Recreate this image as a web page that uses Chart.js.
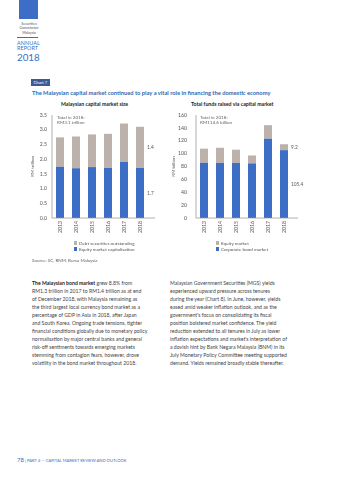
<!DOCTYPE html>
<html>
<head>
<meta charset="utf-8">
<script src="https://cdn.jsdelivr.net/npm/chart.js@4/dist/chart.umd.min.js"></script>
<style>
  html,body{margin:0;padding:0;background:#fff;}
  body{width:339px;height:480px;position:relative;overflow:hidden;font-family:Lato,"Open Sans",sans-serif;}
  .abs{position:absolute;white-space:nowrap;}
  .logo{left:19px;top:0;width:19px;height:19px;background:#3b6ec4;}
  .sc{left:17px;width:24px;text-align:center;font-size:3.6px;color:#555;line-height:4.3px;top:22px;}
  .rule{left:17px;top:37px;width:21px;height:0;border-top:0.6px solid #3b6ec4;}
  .ar{left:17px;color:#3b6ec4;font-size:5.4px;line-height:5.6px;top:40.5px;letter-spacing:0.1px;}
  .yr{left:17px;top:51px;color:#3b6ec4;font-size:9.8px;}
  .tag{left:31px;top:79px;background:#3c5b95;color:#fff;font-size:4.2px;padding:1px 2.5px;line-height:5px;}
  .title{left:32px;top:89px;color:#2f69b3;font-weight:bold;font-size:5.75px;}
  .sub{top:101.3px;font-weight:bold;font-size:5.2px;color:#222;}
  .tot{font-size:4.6px;color:#666;line-height:5.8px;top:114.5px;}
  .leg{font-size:4.6px;color:#555;line-height:6px;}
  .leg i{display:inline-block;width:3.4px;height:3.4px;margin-right:1.6px;vertical-align:-0.3px;}
  .src{left:32px;top:257.5px;font-size:4.5px;color:#666;}
  .body{top:279px;font-size:5.15px;line-height:8px;color:#444;}
  .foot{left:17px;top:456px;color:#3b6ec4;font-size:4.1px;}
  .foot b{font-size:6px;font-weight:normal;}
  canvas{position:absolute;}
</style>
</head>
<body>
<div class="abs logo"></div>
<div class="abs sc">Securities<br>Commission<br>Malaysia</div>
<div class="abs rule"></div>
<div class="abs ar">ANNUAL<br>REPORT</div>
<div class="abs yr">2018</div>
<div class="abs tag">Chart 7</div>
<div class="abs title">The Malaysian capital market continued to play a vital role in financing the domestic economy</div>
<div class="abs sub" style="left:61px;">Malaysian capital market size</div>
<div class="abs sub" style="left:191px;">Total funds raised via capital market</div>

<canvas id="leftChart" width="165" height="142" style="left:0;top:100px;width:165px;height:142px;"></canvas>
<canvas id="rightChart" width="169" height="142" style="left:170px;top:100px;width:169px;height:142px;"></canvas>

<div class="abs tot" style="left:57px;">Total in 2018:<br>RM3.1 trillion</div>
<div class="abs tot" style="left:200px;">Total in 2018:<br>RM114.6 billion</div>

<div class="abs leg" style="left:74px;top:239.5px;"><i style="background:#bdb1ab"></i>Debt securities outstanding<br><i style="background:#3b6ec4"></i>Equity market capitalisation</div>
<div class="abs leg" style="left:216px;top:239.5px;"><i style="background:#bdb1ab"></i>Equity market<br><i style="background:#3b6ec4"></i>Corporate bond market</div>

<div class="abs src">Source: SC, BNM, Bursa Malaysia</div>

<div class="abs body" style="left:32px;"><b style="color:#222">The Malaysian bond market</b> grew 8.8% from<br>RM1.3 trillion in 2017 to RM1.4 trillion as at end<br>of December 2018, with Malaysia remaining as<br>the third largest local currency bond market as a<br>percentage of GDP in Asia in 2018, after Japan<br>and South Korea. Ongoing trade tensions, tighter<br>financial conditions globally due to monetary policy<br>normalisation by major central banks and general<br>risk-off sentiments towards emerging markets<br>stemming from contagion fears, however, drove<br>volatility in the bond market throughout 2018.</div>
<div class="abs body" style="left:170px;">Malaysian Government Securities (MGS) yields<br>experienced upward pressure across tenures<br>during the year (Chart 8). In June, however, yields<br>eased amid weaker inflation outlook, and as the<br>government's focus on consolidating its fiscal<br>position bolstered market confidence. The yield<br>reduction extended to all tenures in July as lower<br>inflation expectations and market's interpretation of<br>a dovish hint by Bank Negara Malaysia (BNM) in its<br>July Monetary Policy Committee meeting supported<br>demand. Yields remained broadly stable thereafter.</div>

<div class="abs foot"><b>78</b> | PART 4 — CAPITAL MARKET REVIEW AND OUTLOOK</div>

<script>
/* ---- data ---- */
const years = ['2013','2014','2015','2016','2017','2018'];
// Malaysian capital market size, RM trillion
const equityCap = [1.74, 1.69, 1.73, 1.70, 1.91, 1.7];
const debtOutstanding = [1.0, 1.08, 1.11, 1.16, 1.3, 1.4];
// Total funds raised, RM billion
const corpBond = [85.7, 85.6, 85.6, 84.8, 123.2, 105.4];
const equityRaised = [22.0, 23.5, 20.5, 12.3, 21.0, 9.2];

const BLUE = '#3b6ec4', GREY = '#bdb1ab', AXIS = '#8f8f8f', TXT = '#555';
const FONT = 'Lato, "Open Sans", sans-serif';

// label the last bar's segments on its right side, and stretch the x axis line a bit
const endLabels = {
  id:'endLabels',
  afterDatasetsDraw(chart, args, opts){
    const ctx = chart.ctx, ca = chart.chartArea;
    ctx.save();
    ctx.strokeStyle = AXIS; ctx.lineWidth = 0.7;
    ctx.beginPath(); ctx.moveTo(ca.left, ca.bottom); ctx.lineTo(ca.right + opts.extend, ca.bottom); ctx.stroke();
    ctx.beginPath(); ctx.moveTo(ca.left, ca.top); ctx.lineTo(ca.left, ca.bottom); ctx.stroke();
    ctx.fillStyle = TXT; ctx.font = '4.8px ' + FONT; ctx.textBaseline = 'middle';
    chart.data.datasets.forEach((ds, i)=>{
      const meta = chart.getDatasetMeta(i);
      const bar = meta.data[meta.data.length-1];
      const v = ds.data[ds.data.length-1];
      ctx.fillText(opts.fmt(v), bar.x + bar.width/2 + 3, (bar.y + bar.base)/2);
    });
    ctx.restore();
  }
};

function makeChart(id, datasets, cfg){
  return new Chart(document.getElementById(id), {
    type:'bar',
    data:{ labels:years, datasets:datasets },
    plugins:[endLabels],
    options:{
      responsive:false, animation:false,
      layout:{ padding:{ left:cfg.padLeft, right:cfg.padRight, top:15, bottom:0 } },
      datasets:{ bar:{ categoryPercentage:1, barPercentage:0.5 } },
      plugins:{ legend:{display:false}, tooltip:{enabled:false}, endLabels:{ fmt:cfg.labelFmt, extend:cfg.extend } },
      scales:{
        x:{ stacked:true, grid:{display:false, drawTicks:false}, border:{display:false},
            ticks:{ minRotation:90, maxRotation:90, padding:3, color:TXT, font:{size:5.2, family:FONT} },
            afterFit:s=>{ s.height = 24; } },
        y:{ stacked:true, min:0, max:cfg.max, grid:{display:false, drawTicks:false}, border:{display:false},
            ticks:{ stepSize:cfg.step, padding:cfg.tickPad, color:TXT, font:{size:5.2, family:FONT}, callback:cfg.tickFmt },
            title:{ display:true, text:cfg.title, color:TXT, font:{size:4.6, family:FONT}, padding:0 },
            afterFit:s=>{ s.width = cfg.yWidth; } }
      }
    }
  });
}

makeChart('leftChart', [
  { label:'Equity market capitalisation', data:equityCap, backgroundColor:BLUE },
  { label:'Debt securities outstanding', data:debtOutstanding, backgroundColor:GREY }
], { max:3.5, step:0.5, tickFmt:v=>v.toFixed(1), title:'RM trillion', padLeft:30, yWidth:22, padRight:17, tickPad:5, extend:7, labelFmt:v=>v.toFixed(1) });

makeChart('rightChart', [
  { label:'Corporate bond market', data:corpBond, backgroundColor:BLUE },
  { label:'Equity market', data:equityRaised, backgroundColor:GREY }
], { max:160, step:20, tickFmt:v=>v, title:'RM billion', padLeft:1, yWidth:25, padRight:47, tickPad:9, extend:6, labelFmt:v=>String(v) });
</script>
</body>
</html>
